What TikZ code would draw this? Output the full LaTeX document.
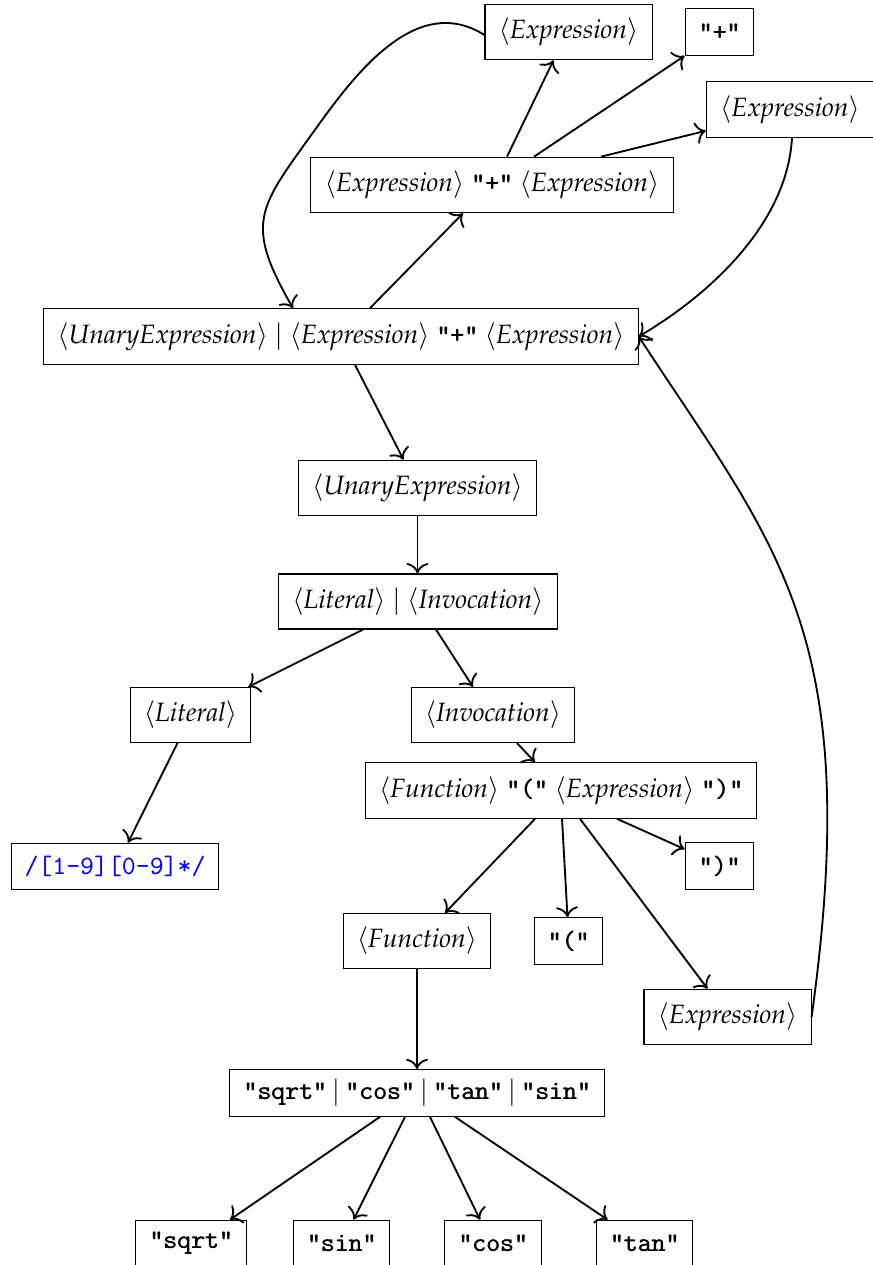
\documentclass[tikz,border=0pt]{standalone}
\usepackage[T1]{fontenc}
\usepackage{mathpazo}
\usetikzlibrary{calc,arrows.meta}

% grammar symbols
\newcommand{\ttfont}{\fontencoding{OT1}\fontfamily{cmtt}\selectfont}
\newcommand{\nterm}[1]{$\langle$\textit{#1}$\rangle$}
\newcommand{\heavy}[1]{\rlap{\kern0.2pt#1}#1}
\newcommand{\tok}[1]{{\ttfont\heavy{"#1"}}}
\newcommand{\orbar}{$|$}
\newcommand{\ttbar}{\hspace{1.9pt}$|$\hspace{1.9pt}}

\begin{document}
\begin{tikzpicture}[
    x=0.3774pt, y=-0.3774pt,
    ntbox/.style={draw, inner xsep=5.1pt, inner ysep=5.2pt},
    ttbox/.style={draw, inner xsep=5.1pt, inner ysep=3.6pt, minimum height=17.6pt},
    edge/.style={-{To[scale=1.25]}, line width=0.7pt}
  ]
  \useasboundingbox (0,0) rectangle (872,1265);

  % nodes
  \node[ntbox] (e1)   at (568.5,32)   {\nterm{Expression}};
  \node[ttbox] (p1)   at (719.5,32)   {\tok{+}};
  \node[ntbox] (e2)   at (790,109.5)  {\nterm{Expression}};
  \node[ntbox] (epe)  at (492,185)    {\nterm{Expression} \tok{+} \nterm{Expression}};
  \node[ntbox] (top)  at (341,336.5)  {\nterm{UnaryExpression} \orbar{} \nterm{Expression} \tok{+} \nterm{Expression}};
  \node[ntbox] (un)   at (417.5,488)  {\nterm{UnaryExpression}};
  \node[ntbox] (li)   at (418,601.5)  {\nterm{Literal} \orbar{} \nterm{Invocation}};
  \node[ntbox] (lit)  at (190.5,715)  {\nterm{Literal}};
  \node[ntbox] (inv)  at (493,715)    {\nterm{Invocation}};
  \node[ntbox] (fex)  at (561,790.5)  {\nterm{Function} \tok{(} \nterm{Expression} \tok{)}};
  \node[ttbox, text=blue] (rx) at (115,866.5) {\ttfont /[1-9][0-9]*/};
  \node[ttbox] (rp)   at (719.5,866)  {\tok{)}};
  \node[ntbox] (fn)   at (417,941)    {\nterm{Function}};
  \node[ttbox] (lp)   at (568.5,941)  {\tok{(}};
  \node[ntbox] (e3)   at (727.5,1017) {\nterm{Expression}};
  \node[ttbox] (trig) at (417,1093)   {\tok{sqrt}\ttbar\tok{cos}\ttbar\tok{tan}\ttbar\tok{sin}};
  \node[ttbox] (sq)   at (191,1243.5) {\tok{sqrt}};
  \node[ttbox] (sn)   at (341.5,1243.5) {\tok{sin}};
  \node[ttbox] (cs)   at (493,1243.5) {\tok{cos}};
  \node[ttbox] (tn)   at (644.5,1243.5) {\tok{tan}};

  % upper part: expression alternatives
  \draw[edge] ($(top.north)+(29,0)$) -- ($(epe.south)+(-29,0)$);
  \draw[edge] ($(top.south)+(14,0)$) -- ($(un.north)+(-14,0)$);
  \draw[edge] ($(epe.north)+(15,0)$) -- ($(e1.south)+(-15,0)$);
  \draw[edge] ($(epe.north)+(42,0)$) -- (p1.south west);
  \draw[edge] ($(epe.north)+(109,0)$) -- ($(e2.south west)+(0,-7)$);

  % recursive references back to the expression rule
  \draw[edge] ($(e1.west)+(0,3)$) .. controls (418,-7) and (357.6,70.3) .. (317,127)
              .. controls (259,208) and (243,221) .. ($(top.north)+(-48,0)$);
  \draw[edge] ($(e2.south)+(2,0)$) .. controls (787,226) and (706,297) .. (top.east);
  \draw[edge] (e3.east) .. controls (865,633) and (776,547) .. (top.east);

  % unary expression branch
  \draw[edge] (un.south) -- (un.south |- li.north);
  \draw[edge] ($(li.south)+(-55,0)$) -- ($(lit.north east)+(-3,0)$);
  \draw[edge] ($(li.south)+(18,0)$) -- ($(inv.north)+(-20,0)$);
  \draw[edge] ($(lit.south)+(-13,0)$) -- ($(rx.north)+(13,0)$);
  \draw[edge] ($(inv.south)+(24,0)$) -- ($(fex.north)+(-26,0)$);

  % invocation parts
  \draw[edge] ($(fex.south)+(-26,0)$) -- ($(fn.north)+(28,0)$);
  \draw[edge] ($(fex.south)+(1,0)$) -- ($(lp.north)+(-1,0)$);
  \draw[edge] ($(fex.south)+(19,0)$) -- ($(e3.north)+(-20,0)$);
  \draw[edge] ($(fex.south)+(56,0)$) -- ($(rp.north west)+(0,7)$);

  % function names
  \draw[edge] (fn.south) -- (fn.south |- trig.north);
  \draw[edge] ($(trig.south)+(-37,0)$) -- ($(sq.north)+(39,0)$);
  \draw[edge] ($(trig.south)+(-12,0)$) -- ($(sn.north)+(12,0)$);
  \draw[edge] ($(trig.south)+(13,0)$) -- ($(cs.north)+(-13,0)$);
  \draw[edge] ($(trig.south)+(38,0)$) -- ($(tn.north)+(-37,0)$);
\end{tikzpicture}
\end{document}
